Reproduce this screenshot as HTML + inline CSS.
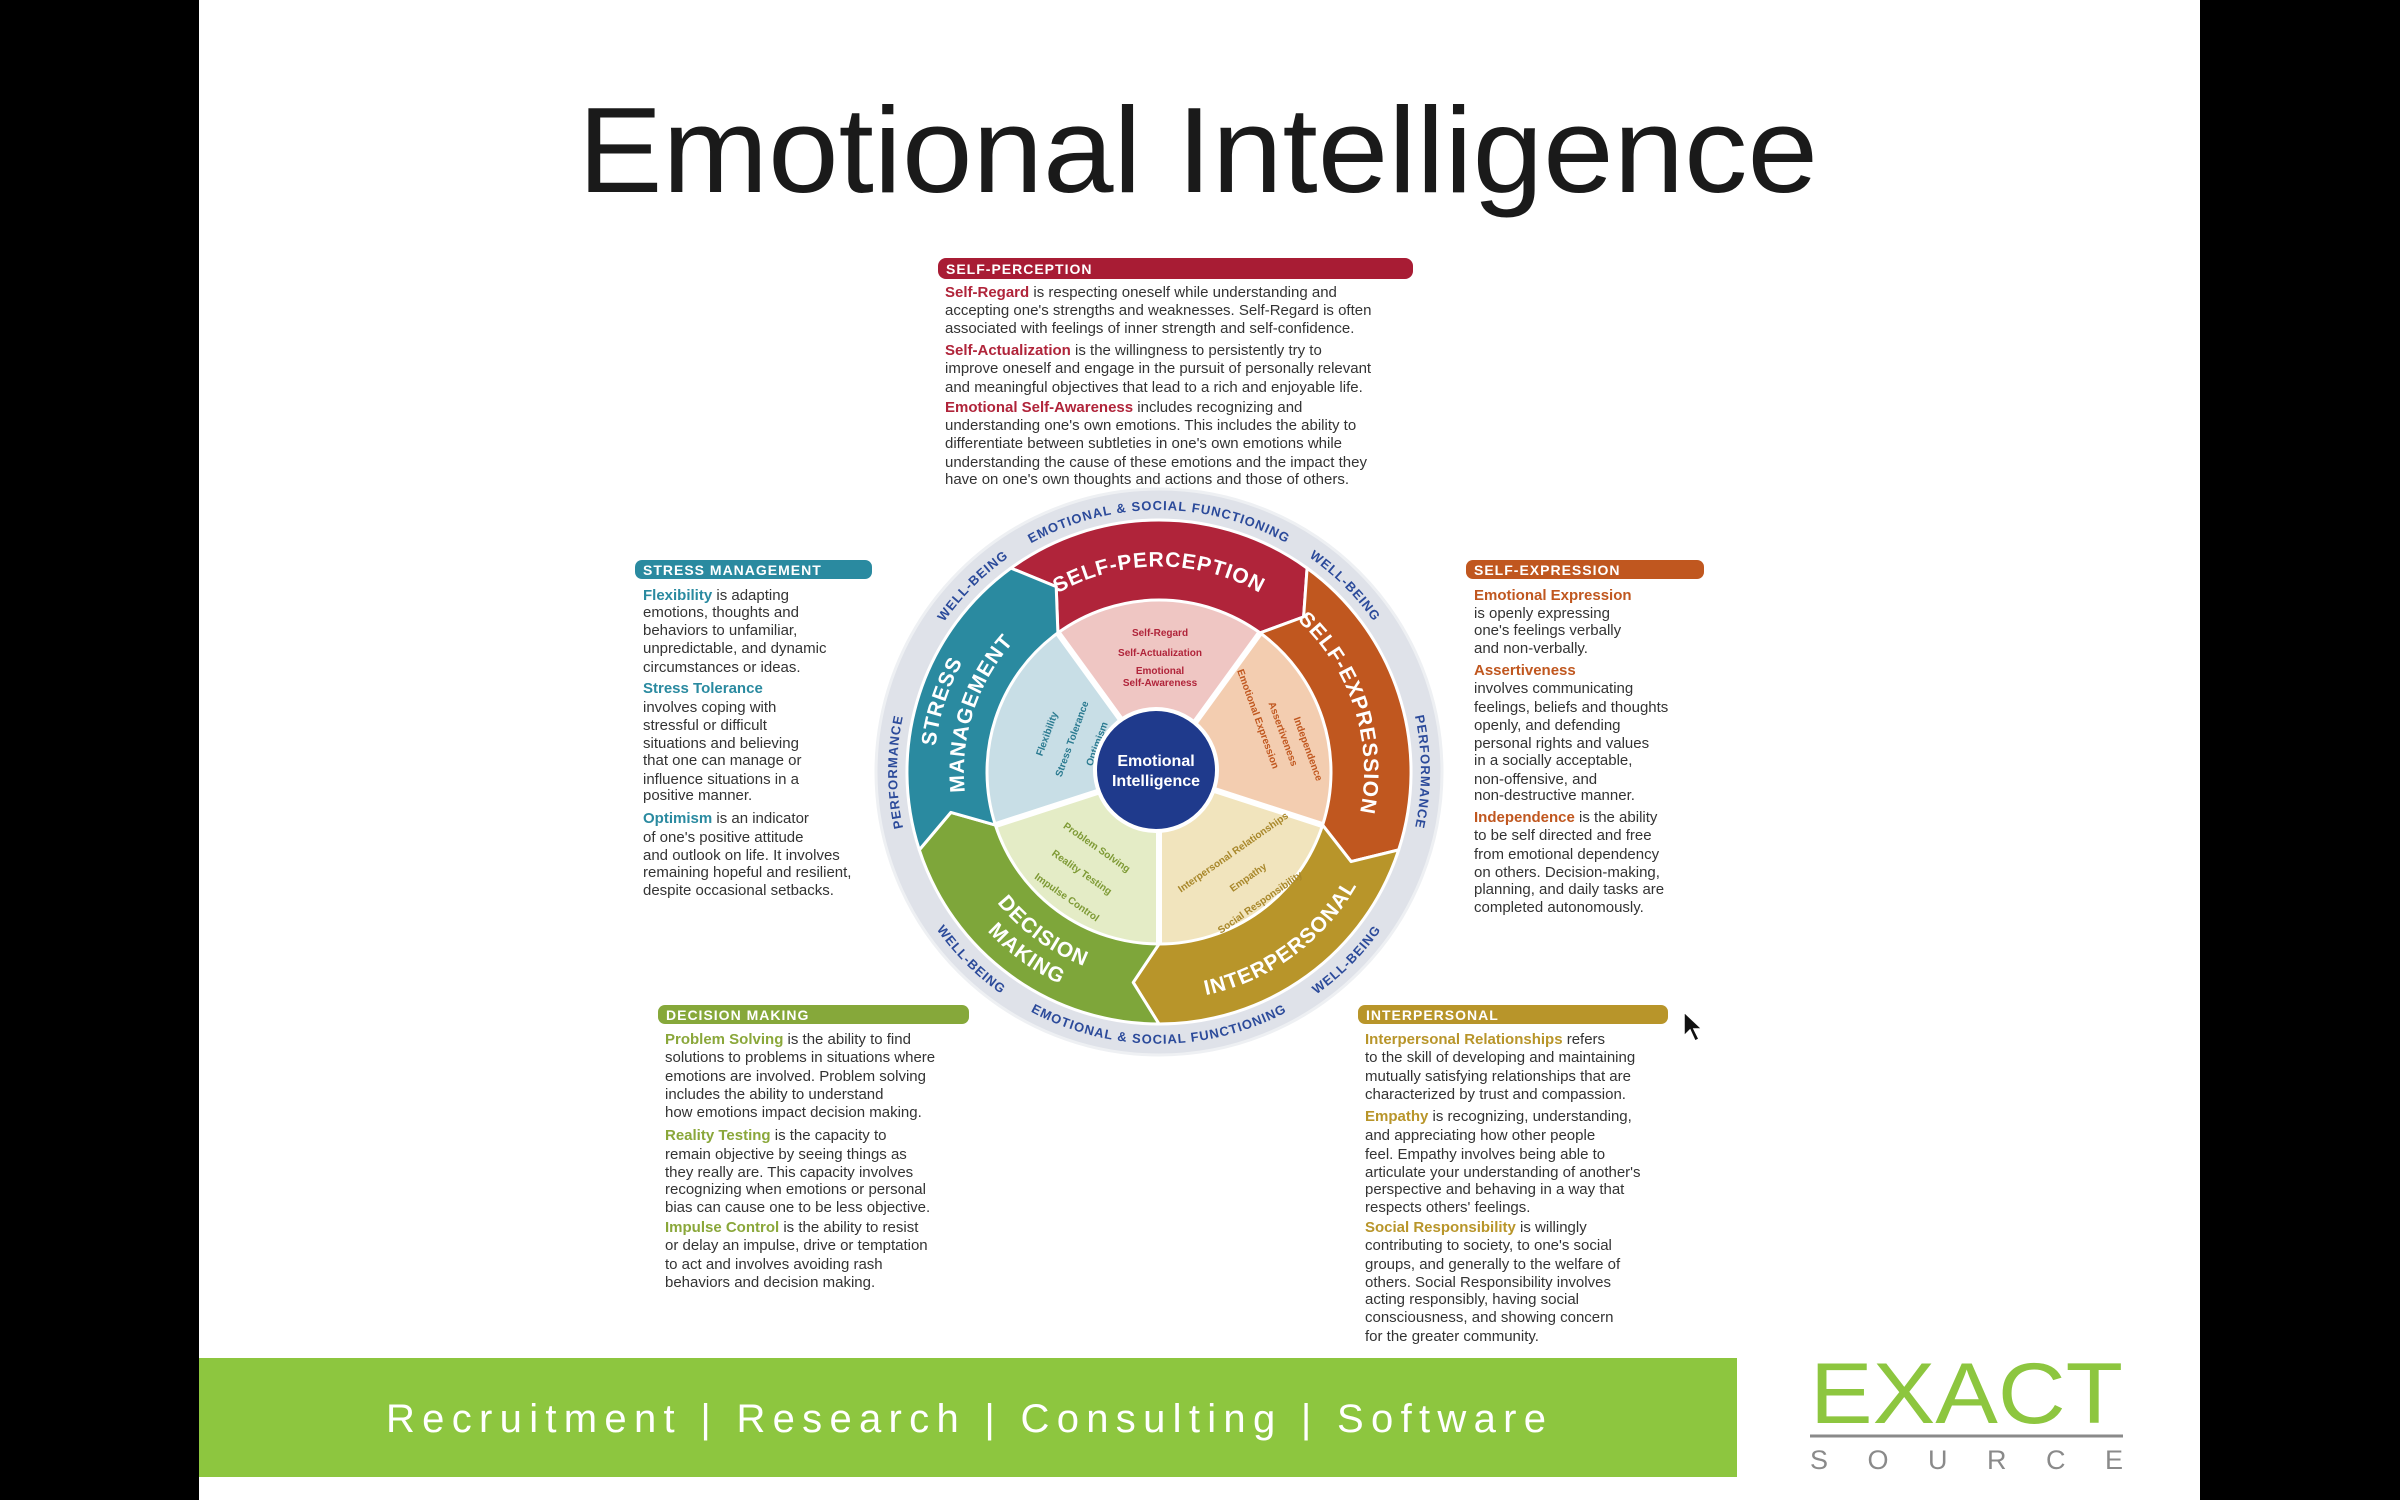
<!DOCTYPE html>
<html><head><meta charset="utf-8"><style>
html,body{margin:0;padding:0;background:#fff;}
svg{display:block;}
text{font-family:"Liberation Sans",sans-serif;}
.b{font-size:15px;fill:#333;}
.h{font-size:14px;fill:#fff;font-weight:bold;letter-spacing:1px;}
.ring{font-size:13px;fill:#2b4a9a;font-weight:bold;letter-spacing:1px;}
.band{font-size:21px;fill:#fff;font-weight:bold;letter-spacing:1px;}
.in{font-size:10px;font-weight:bold;}
</style></head><body>
<svg width="2400" height="1500" viewBox="0 0 2400 1500" xmlns="http://www.w3.org/2000/svg">
<rect x="0" y="0" width="2400" height="1500" fill="#fff"/>
<rect x="0" y="0" width="199" height="1500" fill="#000"/>
<rect x="2200" y="0" width="200" height="1500" fill="#000"/>

<text x="1198" y="192" text-anchor="middle" font-size="122" fill="#1a1a1a" textLength="1240" lengthAdjust="spacingAndGlyphs">Emotional Intelligence</text>

<!-- Self-perception box -->
<rect x="938" y="258" width="475" height="21" rx="8" fill="#a81c34"/>
<text x="946" y="274" class="h">SELF-PERCEPTION</text>
<text class="b" x="945" y="297"><tspan fill="#b0243a" font-weight="bold">Self-Regard</tspan> is respecting oneself while understanding and</text>
<text class="b" x="945" y="315">accepting one's strengths and weaknesses. Self-Regard is often</text>
<text class="b" x="945" y="333">associated with feelings of inner strength and self-confidence.</text>
<text class="b" x="945" y="355"><tspan fill="#b0243a" font-weight="bold">Self-Actualization</tspan> is the willingness to persistently try to</text>
<text class="b" x="945" y="373">improve oneself and engage in the pursuit of personally relevant</text>
<text class="b" x="945" y="392">and meaningful objectives that lead to a rich and enjoyable life.</text>
<text class="b" x="945" y="412"><tspan fill="#b0243a" font-weight="bold">Emotional Self-Awareness</tspan> includes recognizing and</text>
<text class="b" x="945" y="430">understanding one's own emotions. This includes the ability to</text>
<text class="b" x="945" y="448">differentiate between subtleties in one's own emotions while</text>
<text class="b" x="945" y="467">understanding the cause of these emotions and the impact they</text>
<text class="b" x="945" y="484">have on one's own thoughts and actions and those of others.</text>

<!-- Stress management -->
<rect x="635" y="560" width="237" height="19" rx="7" fill="#2a8aa0"/>
<text x="643" y="575" class="h">STRESS MANAGEMENT</text>
<g class="b">
<text x="643" y="600"><tspan fill="#2a8aa0" font-weight="bold">Flexibility</tspan> is adapting</text>
<text x="643" y="617">emotions, thoughts and</text>
<text x="643" y="635">behaviors to unfamiliar,</text>
<text x="643" y="653">unpredictable, and dynamic</text>
<text x="643" y="672">circumstances or ideas.</text>
<text x="643" y="693" fill="#2a8aa0" font-weight="bold">Stress Tolerance</text>
<text x="643" y="712">involves coping with</text>
<text x="643" y="730">stressful or difficult</text>
<text x="643" y="748">situations and believing</text>
<text x="643" y="765">that one can manage or</text>
<text x="643" y="784">influence situations in a</text>
<text x="643" y="800">positive manner.</text>
<text x="643" y="823"><tspan fill="#2a8aa0" font-weight="bold">Optimism</tspan> is an indicator</text>
<text x="643" y="842">of one's positive attitude</text>
<text x="643" y="860">and outlook on life. It involves</text>
<text x="643" y="877">remaining hopeful and resilient,</text>
<text x="643" y="895">despite occasional setbacks.</text>
</g>

<!-- Self-expression -->
<rect x="1466" y="560" width="238" height="19" rx="7" fill="#c0571f"/>
<text x="1474" y="575" class="h">SELF-EXPRESSION</text>
<g class="b">
<text x="1474" y="600" fill="#c0571f" font-weight="bold">Emotional Expression</text>
<text x="1474" y="618">is openly expressing</text>
<text x="1474" y="635">one's feelings verbally</text>
<text x="1474" y="653">and non-verbally.</text>
<text x="1474" y="675" fill="#c0571f" font-weight="bold">Assertiveness</text>
<text x="1474" y="693">involves communicating</text>
<text x="1474" y="712">feelings, beliefs and thoughts</text>
<text x="1474" y="730">openly, and defending</text>
<text x="1474" y="748">personal rights and values</text>
<text x="1474" y="765">in a socially acceptable,</text>
<text x="1474" y="784">non-offensive, and</text>
<text x="1474" y="800">non-destructive manner.</text>
<text x="1474" y="822"><tspan fill="#c0571f" font-weight="bold">Independence</tspan> is the ability</text>
<text x="1474" y="840">to be self directed and free</text>
<text x="1474" y="859">from emotional dependency</text>
<text x="1474" y="877">on others. Decision-making,</text>
<text x="1474" y="894">planning, and daily tasks are</text>
<text x="1474" y="912">completed autonomously.</text>
</g>

<!-- Decision making -->
<rect x="658" y="1005" width="311" height="19" rx="7" fill="#86a83a"/>
<text x="666" y="1020" class="h">DECISION MAKING</text>
<g class="b">
<text x="665" y="1044"><tspan fill="#8aa73a" font-weight="bold">Problem Solving</tspan> is the ability to find</text>
<text x="665" y="1062">solutions to problems in situations where</text>
<text x="665" y="1081">emotions are involved. Problem solving</text>
<text x="665" y="1099">includes the ability to understand</text>
<text x="665" y="1117">how emotions impact decision making.</text>
<text x="665" y="1140"><tspan fill="#8aa73a" font-weight="bold">Reality Testing</tspan> is the capacity to</text>
<text x="665" y="1159">remain objective by seeing things as</text>
<text x="665" y="1177">they really are. This capacity involves</text>
<text x="665" y="1194">recognizing when emotions or personal</text>
<text x="665" y="1212">bias can cause one to be less objective.</text>
<text x="665" y="1232"><tspan fill="#8aa73a" font-weight="bold">Impulse Control</tspan> is the ability to resist</text>
<text x="665" y="1250">or delay an impulse, drive or temptation</text>
<text x="665" y="1269">to act and involves avoiding rash</text>
<text x="665" y="1287">behaviors and decision making.</text>
</g>

<!-- Interpersonal -->
<rect x="1358" y="1005" width="310" height="19" rx="7" fill="#b8952a"/>
<text x="1366" y="1020" class="h">INTERPERSONAL</text>
<g class="b">
<text x="1365" y="1044"><tspan fill="#b8952a" font-weight="bold">Interpersonal Relationships</tspan> refers</text>
<text x="1365" y="1062">to the skill of developing and maintaining</text>
<text x="1365" y="1081">mutually satisfying relationships that are</text>
<text x="1365" y="1099">characterized by trust and compassion.</text>
<text x="1365" y="1121"><tspan fill="#b8952a" font-weight="bold">Empathy</tspan> is recognizing, understanding,</text>
<text x="1365" y="1140">and appreciating how other people</text>
<text x="1365" y="1159">feel. Empathy involves being able to</text>
<text x="1365" y="1177">articulate your understanding of another's</text>
<text x="1365" y="1194">perspective and behaving in a way that</text>
<text x="1365" y="1212">respects others' feelings.</text>
<text x="1365" y="1232"><tspan fill="#b8952a" font-weight="bold">Social Responsibility</tspan> is willingly</text>
<text x="1365" y="1250">contributing to society, to one's social</text>
<text x="1365" y="1269">groups, and generally to the welfare of</text>
<text x="1365" y="1287">others. Social Responsibility involves</text>
<text x="1365" y="1304">acting responsibly, having social</text>
<text x="1365" y="1322">consciousness, and showing concern</text>
<text x="1365" y="1341">for the greater community.</text>
</g>

<!-- Wheel -->
<circle cx="1159" cy="772" r="283" fill="#dfe2e9" stroke="#eef0f3" stroke-width="3"/>
<path d="M1159,772 L1057.9,632.9 A172,172 0 0,1 1260.1,632.9 Z" fill="#efc6c3"/>
<path d="M1159,772 L1260.1,632.9 A172,172 0 0,1 1322.6,825.1 Z" fill="#f3cdb0"/>
<path d="M1159,772 L1322.6,825.1 A172,172 0 0,1 1159,944 Z" fill="#f1e4bd"/>
<path d="M1159,772 L1159,944 A172,172 0 0,1 995.4,825.1 Z" fill="#e4ecc6"/>
<path d="M1159,772 L995.4,825.1 A172,172 0 0,1 1057.9,632.9 Z" fill="#c8dee6"/>
<g stroke="#fff" stroke-width="6">
<line x1="1159" y1="772" x2="1057.9" y2="632.9"/>
<line x1="1159" y1="772" x2="1260.1" y2="632.9"/>
<line x1="1159" y1="772" x2="1322.6" y2="825.1"/>
<line x1="1159" y1="772" x2="1159" y2="944"/>
<line x1="1159" y1="772" x2="995.4" y2="825.1"/>
</g>
<g stroke="#fff" stroke-width="3" stroke-linejoin="round">
<path d="M1010.9,568.1 A252,252 0 0,1 1307.1,568.1 L1303.6,616.9 L1260.1,632.9 A172,172 0 0,0 1057.9,632.9 L1056.2,586.6 Z" fill="#b0243a"/>
<path d="M1307.1,568.1 A252,252 0 0,1 1398.7,849.9 L1351.1,861.6 L1322.6,825.1 A172,172 0 0,0 1260.1,632.9 L1303.6,616.9 Z" fill="#c0571f"/>
<path d="M1398.7,849.9 A252,252 0 0,1 1159,1024 L1133.2,982.4 L1159,944 A172,172 0 0,0 1322.6,825.1 L1351.1,861.6 Z" fill="#b8952a"/>
<path d="M1159,1024 A252,252 0 0,1 919.3,849.9 L950.9,812.4 L995.4,825.1 A172,172 0 0,0 1159,944 L1133.2,982.4 Z" fill="#7ea63a"/>
<path d="M919.3,849.9 A252,252 0 0,1 1010.9,568.1 L1056.2,586.6 L1057.9,632.9 A172,172 0 0,0 995.4,825.1 L950.9,812.4 Z" fill="#2a8aa0"/>
</g>
<defs>
<path id="pSP" d="M1038,606 A205,205 0 0,1 1280,606"/>
<path id="pSE" d="M1280,606 A205,205 0 0,1 1354,835"/>
<path id="pIP" d="M1159,1000 A228,228 0 0,0 1376,842"/>
<path id="pDM1" d="M961.2,836.3 A208,208 0 0,0 1159,980"/>
<path id="pDM2" d="M936.5,844.3 A234,234 0 0,0 1159,1006"/>
<path id="pSM1" d="M945,841.5 A225,225 0 0,1 1026.7,590"/>
<path id="pSM2" d="M973.5,832.3 A195,195 0 0,1 1044.4,614.2"/>
<path id="rT" d="M990.6,571.3 A262,262 0 0,1 1327.4,571.3"/>
<path id="rB" d="M984,980 A272,272 0 0,0 1334,980"/>
<path id="rL" d="M913,862 A262,262 0 0,1 913,682"/>
<path id="rR" d="M1405,682 A262,262 0 0,1 1405,862"/>
<path id="w1" d="M932,641 A262,262 0 0,1 1028,545"/>
<path id="w2" d="M1290,545 A262,262 0 0,1 1386,641"/>
<path id="w3" d="M1295,1008 A272,272 0 0,0 1395,908"/>
<path id="w4" d="M923,908 A272,272 0 0,0 1023,1008"/>
</defs>
<text class="band"><textPath href="#pSP" startOffset="50%" text-anchor="middle">SELF-PERCEPTION</textPath></text>
<text class="band"><textPath href="#pSE" startOffset="50%" text-anchor="middle">SELF-EXPRESSION</textPath></text>
<text class="band" font-size="23"><textPath href="#pIP" startOffset="50%" text-anchor="middle">INTERPERSONAL</textPath></text>
<text class="band" font-size="19"><textPath href="#pDM1" startOffset="50%" text-anchor="middle">DECISION</textPath></text>
<text class="band" font-size="19"><textPath href="#pDM2" startOffset="50%" text-anchor="middle">MAKING</textPath></text>
<text class="band" font-size="19"><textPath href="#pSM1" startOffset="50%" text-anchor="middle">STRESS</textPath></text>
<text class="band" font-size="19"><textPath href="#pSM2" startOffset="50%" text-anchor="middle">MANAGEMENT</textPath></text>
<text class="ring"><textPath href="#rT" startOffset="50%" text-anchor="middle">EMOTIONAL &amp; SOCIAL FUNCTIONING</textPath></text>
<text class="ring"><textPath href="#rB" startOffset="50%" text-anchor="middle">EMOTIONAL &amp; SOCIAL FUNCTIONING</textPath></text>
<text class="ring"><textPath href="#rL" startOffset="50%" text-anchor="middle">PERFORMANCE</textPath></text>
<text class="ring"><textPath href="#rR" startOffset="50%" text-anchor="middle">PERFORMANCE</textPath></text>
<text class="ring" font-size="11"><textPath href="#w1" startOffset="50%" text-anchor="middle">WELL-BEING</textPath></text>
<text class="ring" font-size="11"><textPath href="#w2" startOffset="50%" text-anchor="middle">WELL-BEING</textPath></text>
<text class="ring" font-size="11"><textPath href="#w3" startOffset="50%" text-anchor="middle">WELL-BEING</textPath></text>
<text class="ring" font-size="11"><textPath href="#w4" startOffset="50%" text-anchor="middle">WELL-BEING</textPath></text>
<g class="in" text-anchor="middle">
<text x="1160" y="636" fill="#b0243a">Self-Regard</text>
<text x="1160" y="656" fill="#b0243a">Self-Actualization</text>
<text x="1160" y="674" fill="#b0243a">Emotional</text>
<text x="1160" y="686" fill="#b0243a">Self-Awareness</text>
<text x="1255" y="720" fill="#c0571f" transform="rotate(70 1255 720)">Emotional Expression</text>
<text x="1280" y="735" fill="#c0571f" transform="rotate(70 1280 735)">Assertiveness</text>
<text x="1305" y="750" fill="#c0571f" transform="rotate(70 1305 750)">Independence</text>
<text x="1235" y="855" fill="#a8872a" transform="rotate(-35 1235 855)">Interpersonal Relationships</text>
<text x="1250" y="880" fill="#a8872a" transform="rotate(-35 1250 880)">Empathy</text>
<text x="1262" y="905" fill="#a8872a" transform="rotate(-35 1262 905)">Social Responsibility</text>
<text x="1095" y="850" fill="#7e9a35" transform="rotate(35 1095 850)">Problem Solving</text>
<text x="1080" y="875" fill="#7e9a35" transform="rotate(35 1080 875)">Reality Testing</text>
<text x="1065" y="900" fill="#7e9a35" transform="rotate(35 1065 900)">Impulse Control</text>
<text x="1050" y="735" fill="#2a7a90" transform="rotate(-70 1050 735)">Flexibility</text>
<text x="1075" y="740" fill="#2a7a90" transform="rotate(-70 1075 740)">Stress Tolerance</text>
<text x="1100" y="745" fill="#2a7a90" transform="rotate(-70 1100 745)">Optimism</text>
</g>
<circle cx="1156" cy="770" r="61" fill="#1f3a8c" stroke="#fff" stroke-width="4"/>
<text x="1156" y="766" text-anchor="middle" font-size="16" font-weight="bold" fill="#fff">Emotional</text>
<text x="1156" y="786" text-anchor="middle" font-size="16" font-weight="bold" fill="#fff">Intelligence</text>

<path d="M1684,1012 L1684,1036 L1690,1030 L1695,1041 L1699,1039 L1694,1029 L1702,1029 Z" fill="#111" stroke="#fff" stroke-width="1.5"/>

<rect x="199" y="1358" width="1538" height="119" fill="#8dc63f"/>
<text x="386" y="1432" font-size="40" fill="#fff" textLength="1160" lengthAdjust="spacing">Recruitment | Research | Consulting | Software</text>

<text x="1810" y="1423" font-size="86" fill="#8dc63f" textLength="313" lengthAdjust="spacingAndGlyphs">EXACT</text>
<line x1="1810" y1="1436" x2="2123" y2="1436" stroke="#8a8a8a" stroke-width="3"/>
<text x="1810" y="1469" font-size="27" fill="#8a8a8a" textLength="313" lengthAdjust="spacing">SOURCE</text>
</svg>
</body></html>
